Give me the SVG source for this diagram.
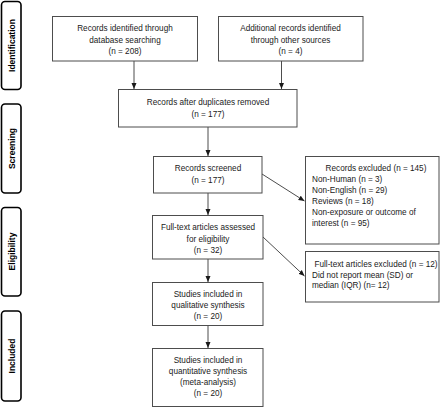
<svg xmlns="http://www.w3.org/2000/svg" width="440" height="408" viewBox="0 0 440 408">
<style>
.box{fill:#fff;stroke:#4d4d4d;stroke-width:1}
.side{fill:#fff;stroke:#000;stroke-width:1.6}
.t{font-family:"Liberation Sans",Arial,sans-serif;font-size:8.2px;fill:#1a1a1a}
.c{text-anchor:middle}
.s{font-family:"Liberation Sans",Arial,sans-serif;font-size:8.5px;font-weight:bold;fill:#000;text-anchor:middle}
.ln{stroke:#4d4d4d;stroke-width:1;fill:none;marker-end:url(#ah)}
</style>
<defs>
<marker id="ah" viewBox="0 0 6 6" refX="6" refY="3" markerWidth="6" markerHeight="6" markerUnits="userSpaceOnUse" orient="auto">
<path d="M0,0.5 L6,3 L0,5.5 z" fill="#1a1a1a"/>
</marker>
</defs>
<rect width="440" height="408" fill="#fff"/>
<g id="phase-identification"><rect class="side" x="1.5" y="1.5" width="19.5" height="88" rx="3.5"/><text class="s" transform="translate(14.5,45.5) rotate(-90)">Identification</text></g>
<g id="phase-screening"><rect class="side" x="1.5" y="104" width="19.5" height="89" rx="3.5"/><text class="s" transform="translate(14.5,148.5) rotate(-90)">Screening</text></g>
<g id="phase-eligibility"><rect class="side" x="1.5" y="207.5" width="19.5" height="88.5" rx="3.5"/><text class="s" transform="translate(14.5,251.5) rotate(-90)">Eligibility</text></g>
<g id="phase-included"><rect class="side" x="1.5" y="311" width="19.5" height="90" rx="3.5"/><text class="s" transform="translate(14.5,356) rotate(-90)">Included</text></g>
<g id="connectors">
<line class="ln" x1="134" y1="61" x2="134" y2="89"/>
<line class="ln" x1="281.5" y1="61" x2="281.5" y2="89"/>
<line class="ln" x1="208" y1="127" x2="208" y2="156"/>
<line class="ln" x1="208" y1="193" x2="208" y2="215"/>
<line class="ln" x1="208" y1="259" x2="208" y2="282"/>
<line class="ln" x1="208" y1="325" x2="208" y2="348"/>
<line class="ln" x1="262" y1="174" x2="304.5" y2="201"/>
<line class="ln" x1="263" y1="237" x2="304.5" y2="276"/>
</g>
<g id="n1"><rect class="box" x="52.5" y="16.5" width="145" height="44.5"/>
<text class="t c" x="125" y="31">Records identified through</text>
<text class="t c" x="125" y="42.5">database searching</text>
<text class="t c" x="125" y="54">(n = 208)</text></g>
<g id="n2"><rect class="box" x="218.5" y="16.5" width="144.5" height="44.5"/>
<text class="t c" x="290.5" y="31">Additional records identified</text>
<text class="t c" x="290.5" y="42.5">through other sources</text>
<text class="t c" x="290.5" y="54">(n = 4)</text></g>
<g id="n3"><rect class="box" x="118.5" y="89.5" width="178.5" height="37.5"/>
<text class="t c" x="208" y="105">Records after duplicates removed</text>
<text class="t c" x="208" y="116.5">(n = 177)</text></g>
<g id="n4"><rect class="box" x="153.5" y="156.5" width="108.5" height="36.5"/>
<text class="t c" x="208" y="171">Records screened</text>
<text class="t c" x="208" y="183">(n = 177)</text></g>
<g id="n5"><rect class="box" x="152.5" y="215.5" width="110.5" height="43.5"/>
<text class="t c" x="208" y="230">Full-text articles assessed</text>
<text class="t c" x="208" y="241.5">for eligibility</text>
<text class="t c" x="208" y="252.5">(n = 32)</text></g>
<g id="n6"><rect class="box" x="152.5" y="282.5" width="110.5" height="43"/>
<text class="t c" x="208" y="297">Studies included in</text>
<text class="t c" x="208" y="308">qualitative synthesis</text>
<text class="t c" x="208" y="319">(n = 20)</text></g>
<g id="n7"><rect class="box" x="152.5" y="348.5" width="110.5" height="58"/>
<text class="t c" x="208" y="363">Studies included in</text>
<text class="t c" x="208" y="374">quantitative synthesis</text>
<text class="t c" x="208" y="385">(meta-analysis)</text>
<text class="t c" x="208" y="396">(n = 20)</text></g>
<g id="n8"><rect class="box" x="305.5" y="156.5" width="133.5" height="87.5"/>
<text class="t c" x="376" y="171">Records excluded (n = 145)</text>
<text class="t" x="312" y="182">Non-Human (n = 3)</text>
<text class="t" x="312" y="193">Non-English (n = 29)</text>
<text class="t" x="312" y="204">Reviews (n = 18)</text>
<text class="t" x="312" y="215">Non-exposure or outcome of</text>
<text class="t" x="312" y="226">interest (n = 95)</text></g>
<g id="n9"><rect class="box" x="305.5" y="251.5" width="133.5" height="50.5"/>
<text class="t c" x="376" y="267">Full-text articles excluded (n = 12)</text>
<text class="t" x="312" y="277.5">Did not report mean (SD) or</text>
<text class="t" x="312" y="288">median (IQR) (n= 12)</text></g>
</svg>
